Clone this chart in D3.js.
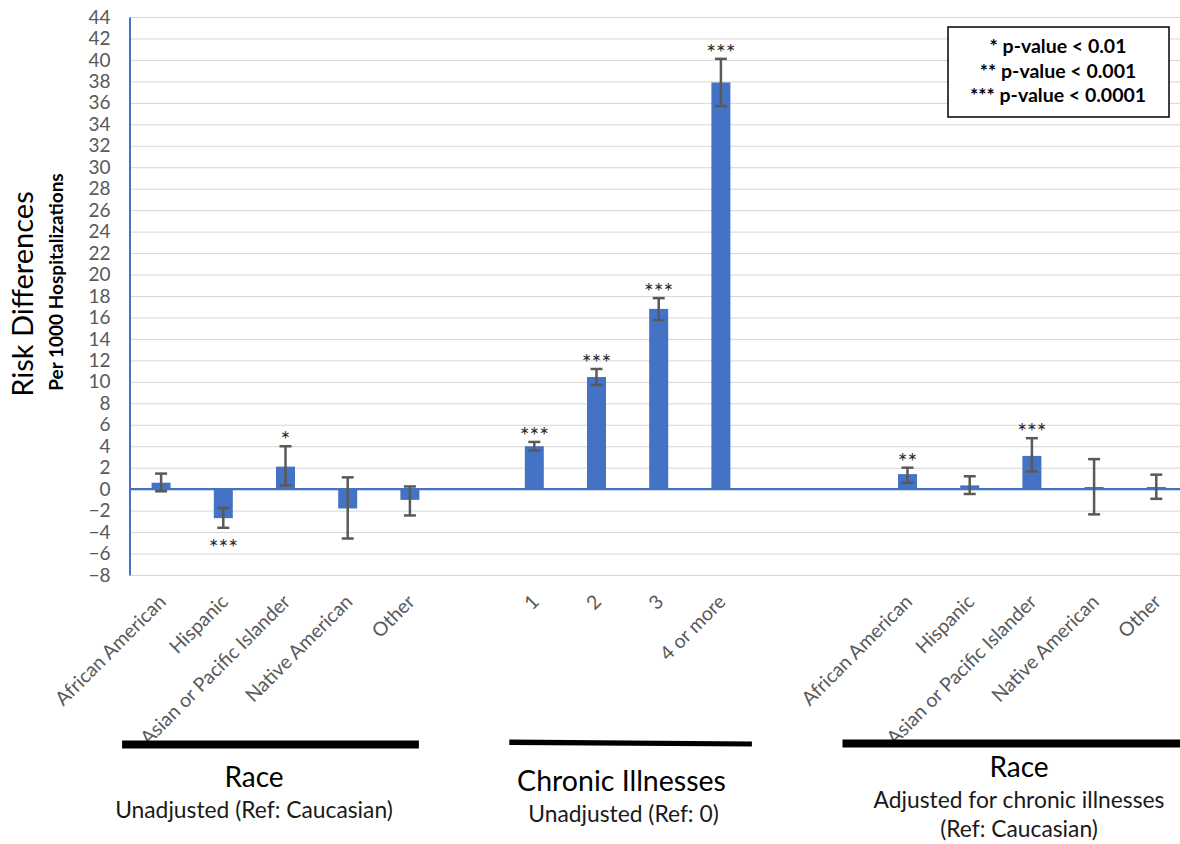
<!DOCTYPE html>
<html>
<head>
<meta charset="utf-8">
<script src="https://cdn.jsdelivr.net/npm/d3@7"></script>
<style>
  html, body { margin: 0; padding: 0; background: #fff; }
  svg { display: block; font-family: Lato, "Open Sans", sans-serif; }
</style>
</head>
<body>
<svg id="chart" width="1180" height="844"></svg>
<script>
// Category slots along the x axis (empty strings are spacer slots between groups)
const categories = [
  "African American", "Hispanic", "Asian or Pacific Islander", "Native American", "Other",
  "",
  "1", "2", "3", "4 or more",
  "", "",
  "African American", "Hispanic", "Asian or Pacific Islander", "Native American", "Other"
];
// Risk differences per 1000 hospitalizations
const values = [0.6, -2.7, 2.1, -1.8, -1.0, null, 4.0, 10.45, 16.8, 37.9, null, null, 1.4, 0.35, 3.1, 0.2, 0.2];
// 95% confidence limits
const ciLow  = [-0.2, -3.6, 0.35, -4.6, -2.45, null, 3.6, 9.7, 15.75, 35.7, null, null, 0.6, -0.45, 1.65, -2.35, -0.9];
const ciHigh = [1.45, -1.75, 4.0, 1.1, 0.25, null, 4.4, 11.2, 17.8, 40.1, null, null, 2.0, 1.2, 4.75, 2.8, 1.35];
// Significance markers
const stars  = ["", "***", "*", "", "", "", "***", "***", "***", "***", "", "", "**", "", "***", "", ""];
// Y axis tick values
const yTicks = d3.range(-8, 45, 2);
// Group brackets below the axis
const groupTitles = ["Race", "Chronic Illnesses", "Race"];
const groupNotes = [["Unadjusted (Ref: Caucasian)"], ["Unadjusted (Ref: 0)"], ["Adjusted for chronic illnesses", "(Ref: Caucasian)"]];
const groupFirst = [0, 6, 12];
const groupLast = [4, 9, 16];
const legendLines = ["* p-value < 0.01", "** p-value < 0.001", "*** p-value < 0.0001"];

const svg = d3.select("#chart");
const plotLeft = 130, plotRight = 1180;
const BLUE = "#4472C4", GREY = "#595959";

const x = d3.scaleBand()
  .domain(d3.range(categories.length))
  .range([plotLeft, plotLeft + 17 * 62.2]);
const y = d3.scaleLinear().domain([-8, 44]).range([575, 17]);
const cx = i => x(i) + x.bandwidth() / 2;
const barW = 19;

// horizontal gridlines
const grid = svg.append("g")
  .attr("transform", `translate(${plotLeft},0)`)
  .call(d3.axisRight(y).tickValues(yTicks).tickSize(plotRight - plotLeft).tickFormat(""));
grid.select(".domain").remove();
grid.selectAll("line").attr("stroke", "#d6d6d6").attr("stroke-width", 1);

const idx = d3.range(categories.length).filter(i => values[i] !== null);

// bars
svg.append("g").selectAll("rect")
  .data(idx)
  .join("rect")
  .attr("x", i => cx(i) - barW / 2)
  .attr("width", barW)
  .attr("y", i => Math.min(y(values[i]), y(0)))
  .attr("height", i => Math.abs(y(values[i]) - y(0)))
  .attr("fill", BLUE);

// zero line
svg.append("line")
  .attr("x1", plotLeft).attr("x2", plotRight)
  .attr("y1", y(0)).attr("y2", y(0))
  .attr("stroke", BLUE).attr("stroke-width", 2.2);

// error bars
const eb = svg.append("g").attr("stroke", GREY).attr("stroke-width", 2.5).attr("fill", "none");
const capW = 12;
idx.forEach(i => {
  eb.append("line").attr("x1", cx(i)).attr("x2", cx(i)).attr("y1", y(ciLow[i])).attr("y2", y(ciHigh[i]));
  eb.append("line").attr("x1", cx(i) - capW / 2).attr("x2", cx(i) + capW / 2).attr("y1", y(ciLow[i])).attr("y2", y(ciLow[i]));
  eb.append("line").attr("x1", cx(i) - capW / 2).attr("x2", cx(i) + capW / 2).attr("y1", y(ciHigh[i])).attr("y2", y(ciHigh[i]));
});

// significance markers: above positive bars, below negative ones
svg.append("g").selectAll("text")
  .data(idx.filter(i => stars[i]))
  .join("text")
  .attr("x", i => cx(i))
  .attr("y", i => values[i] >= 0 ? y(ciHigh[i]) + 2 : y(ciLow[i]) + 28)
  .attr("text-anchor", "middle")
  .attr("font-size", 23)
  .attr("fill", "#2b2b2b")
  .text(i => stars[i]);

// y axis
const yAxis = svg.append("g")
  .attr("transform", "translate(129.5,0)")
  .call(d3.axisLeft(y).tickValues(yTicks).tickSize(0).tickSizeOuter(0).tickPadding(19));
yAxis.select(".domain").attr("stroke", BLUE).attr("stroke-width", 2);
yAxis.selectAll("text").attr("fill", GREY).attr("font-size", 19).attr("font-family", 'Lato, "Open Sans", sans-serif');

// category labels, rotated
svg.append("g").selectAll("text")
  .data(d3.range(categories.length).filter(i => categories[i]))
  .join("text")
  .attr("transform", i => `translate(${cx(i) + 6},603) rotate(-45)`)
  .attr("text-anchor", "end")
  .attr("font-size", 19.5)
  .attr("fill", GREY)
  .text(i => categories[i]);

// y axis titles
svg.append("text")
  .attr("transform", "translate(33,294) rotate(-90)")
  .attr("text-anchor", "middle")
  .attr("font-size", 29)
  .attr("fill", "#000")
  .text("Risk Differences");
svg.append("text")
  .attr("transform", "translate(63,282) rotate(-90)")
  .attr("text-anchor", "middle")
  .attr("font-size", 19)
  .attr("font-weight", "bold")
  .attr("fill", "#000")
  .text("Per 1000 Hospitalizations");

// legend box
const lg = svg.append("g");
lg.append("rect").attr("x", 948).attr("y", 27).attr("width", 221).attr("height", 90)
  .attr("fill", "#fff").attr("stroke", "#000").attr("stroke-width", 1.5);
lg.selectAll("text").data(legendLines).join("text")
  .attr("x", 1058).attr("y", (d, k) => 53 + k * 24.5)
  .attr("text-anchor", "middle")
  .attr("font-size", 19.5)
  .attr("font-weight", "bold")
  .attr("fill", "#000")
  .text(d => d);

// group brackets and captions
const bracketLeftOffset = [-39, -25, -65];
const bracketRightOffset = [9, 31, 30];
const bracketY = [744.5, 742.5, 743.5];
const titleBase = [786.7, 791, 777];
const titleCx = [254, 621.5, 1019];
const gb = svg.append("g");
groupTitles.forEach((t, g) => {
  const x1 = cx(groupFirst[g]) + bracketLeftOffset[g];
  const x2 = Math.min(cx(groupLast[g]) + bracketRightOffset[g], plotRight);
  if (g === 1) {
    gb.append("path")
      .attr("d", `M${x1},739.5 L${x2},741.5 L${x2},746.5 L${x1},745 Z`)
      .attr("fill", "#000");
  } else {
    gb.append("rect").attr("x", x1).attr("width", x2 - x1)
      .attr("y", bracketY[g] - 4).attr("height", 8).attr("fill", "#000");
  }
  gb.append("text").attr("x", titleCx[g]).attr("y", titleBase[g])
    .attr("text-anchor", "middle").attr("font-size", g === 1 ? 28.5 : 28).attr("fill", "#000").text(t);
  groupNotes[g].forEach((n, k) => {
    gb.append("text").attr("x", titleCx[g] + (g === 1 ? 2 : 0)).attr("y", titleBase[g] + 31 + k * 29)
      .attr("text-anchor", "middle").attr("font-size", 22.8).attr("fill", "#1a1a1a").text(n);
  });
});
</script>
</body>
</html>
